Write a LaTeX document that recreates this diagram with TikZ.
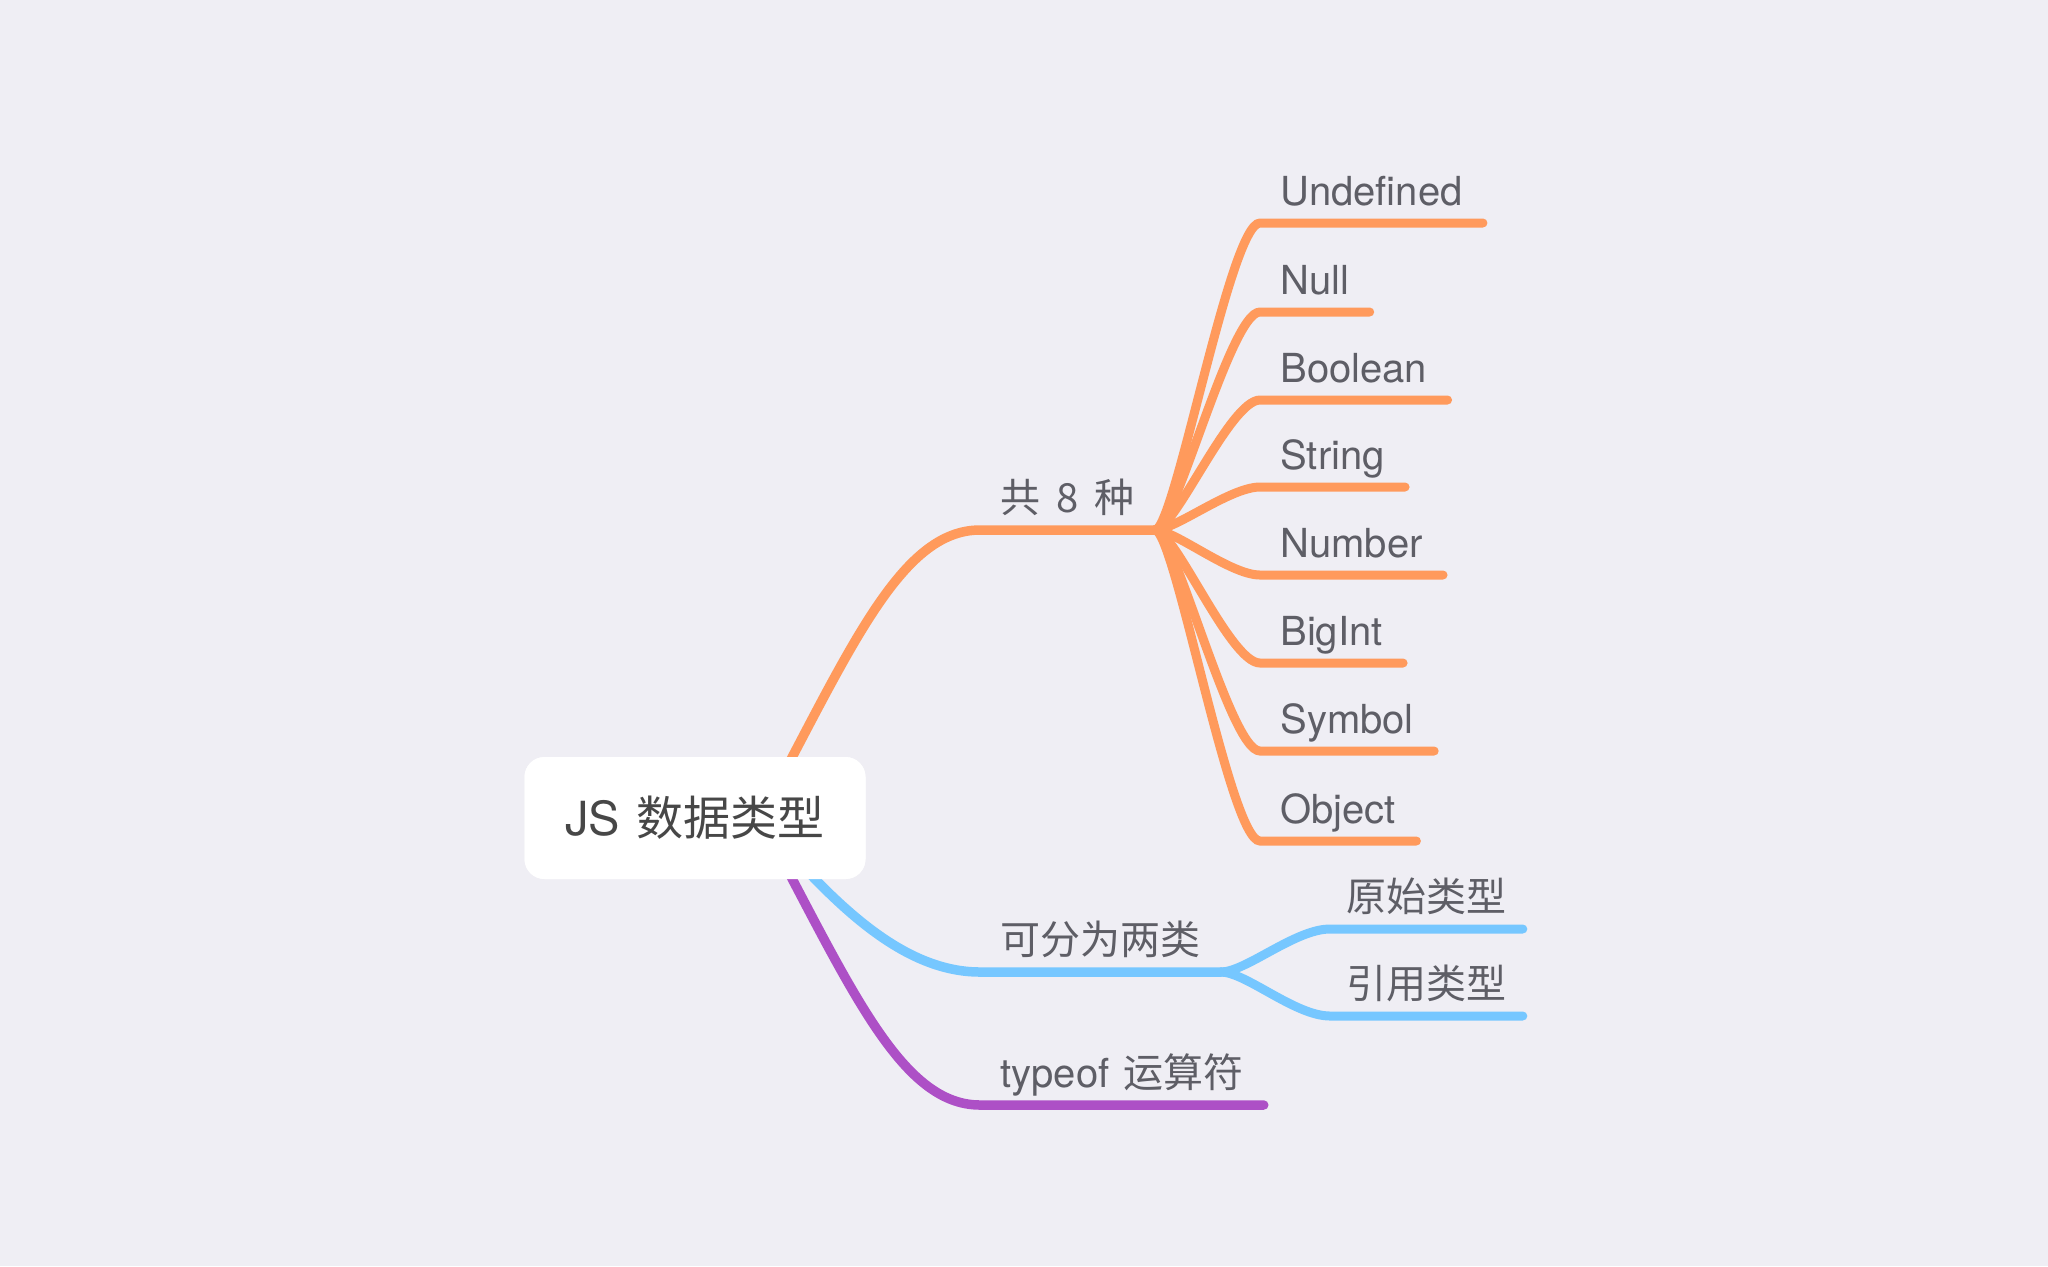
\documentclass[tikz,border=0pt]{standalone}
\usepackage{fontspec}
\setmainfont{TeX Gyre Heros}
\newfontfamily\cjk{Noto Sans CJK SC}
\usepackage{tikz}
\usetikzlibrary{calc, positioning}
\usepackage{xcolor}
\tikzstyle{tnode} = [%
  anchor=south west,
  inner xsep=10pt,
  inner ysep=8.5pt,
  text depth=0pt,
  text=txtGray,
  font=\fontsize{20}{24}\selectfont
]
\tikzstyle{rnode} = [%
  fill=white,
  rounded corners=10pt,
  minimum width=170.5pt,
  minimum height=61pt,
  text=rootGray,
  font=\fontsize{23.5}{28}\selectfont
]
\definecolor{bgGray}{HTML}{EFEEF4}
\definecolor{txtGray}{HTML}{5E5E66}
\definecolor{rootGray}{HTML}{474747}
\definecolor{brOrange}{HTML}{FF9A5C}
\definecolor{brBlue}{HTML}{76C7FF}
\definecolor{brPurple}{HTML}{AD50C6}

\begin{document}
\begin{tikzpicture}[%
  x=0.5pt, y=-0.5pt,
  branch/.style={line width=4.75pt, line cap=round},
  leaf/.style={line width=4.5pt, line cap=round}
]

  % Canvas
  \fill[bgGray] (0,0) rectangle (2048,1266);
  \useasboundingbox (0,0) rectangle (2048,1266);

  % Nodes
  \node[rnode] (R) at (695,818) {JS\hspace{0.35em}{\cjk 数据类型}};

  \node[tnode] (K) at (980,530) {\cjk 共\hspace{0.4em}8\hspace{0.4em}种};
  \node[tnode] (K1) at (1260,223) {Undefined};
  \node[tnode] (K2) at (1260,312) {Null};
  \node[tnode] (K3) at (1260,400) {Boolean};
  \node[tnode] (K4) at (1260,487) {String};
  \node[tnode] (K5) at (1260,575) {Number};
  \node[tnode] (K6) at (1260,663) {BigInt};
  \node[tnode] (K7) at (1260,751) {Symbol};
  \node[tnode] (K8) at (1260,841) {Object};

  \node[tnode] (C) at (980,972) {\cjk 可分为两类};
  \node[tnode,inner xsep=8pt] (C1) at (1330,929) {\cjk 原始类型};
  \node[tnode,inner xsep=8pt] (C2) at (1330,1016) {\cjk 引用类型};

  \node[tnode] (T) at (980,1105) {typeof\hspace{0.35em}{\cjk 运算符}};

  % Main branches
  \draw[branch,brOrange] (R.center) ++(65,0) .. controls +(90,-168) and +(-80,0) .. (K.south west) -- (K.south east);
  \draw[branch,brBlue] (R.center) ++(65,0) .. controls +(70,82) and +(-80,0) .. (C.south west) -- (C.south east);
  \draw[branch,brPurple] (R.center) ++(65,0) .. controls +(90,168) and +(-80,0) .. (T.south west) -- (T.south east);

  % Leaf edges
  \draw[leaf,brOrange] (K.south east) .. controls +(20,0) and +(-30,0) .. (K1.south west) -- (K1.south east);
  \draw[leaf,brOrange] (K.south east) .. controls +(20,0) and +(-30,0) .. (K2.south west) -- (K2.south east);
  \draw[leaf,brOrange] (K.south east) .. controls +(20,0) and +(-30,0) .. (K3.south west) -- (K3.south east);
  \draw[leaf,brOrange] (K.south east) .. controls +(20,0) and +(-30,0) .. (K4.south west) -- (K4.south east);
  \draw[leaf,brOrange] (K.south east) .. controls +(20,0) and +(-30,0) .. (K5.south west) -- (K5.south east);
  \draw[leaf,brOrange] (K.south east) .. controls +(20,0) and +(-30,0) .. (K6.south west) -- (K6.south east);
  \draw[leaf,brOrange] (K.south east) .. controls +(20,0) and +(-30,0) .. (K7.south west) -- (K7.south east);
  \draw[leaf,brOrange] (K.south east) .. controls +(20,0) and +(-30,0) .. (K8.south west) -- (K8.south east);

  \draw[leaf,brBlue] (C.south east) .. controls +(25,0) and +(-35,0) .. (C1.south west) -- (C1.south east);
  \draw[leaf,brBlue] (C.south east) .. controls +(25,0) and +(-35,0) .. (C2.south west) -- (C2.south east);

  % Root again, on top of the branches
  \node[rnode] (R) at (695,818) {JS\hspace{0.35em}{\cjk 数据类型}};

\end{tikzpicture}
\end{document}
